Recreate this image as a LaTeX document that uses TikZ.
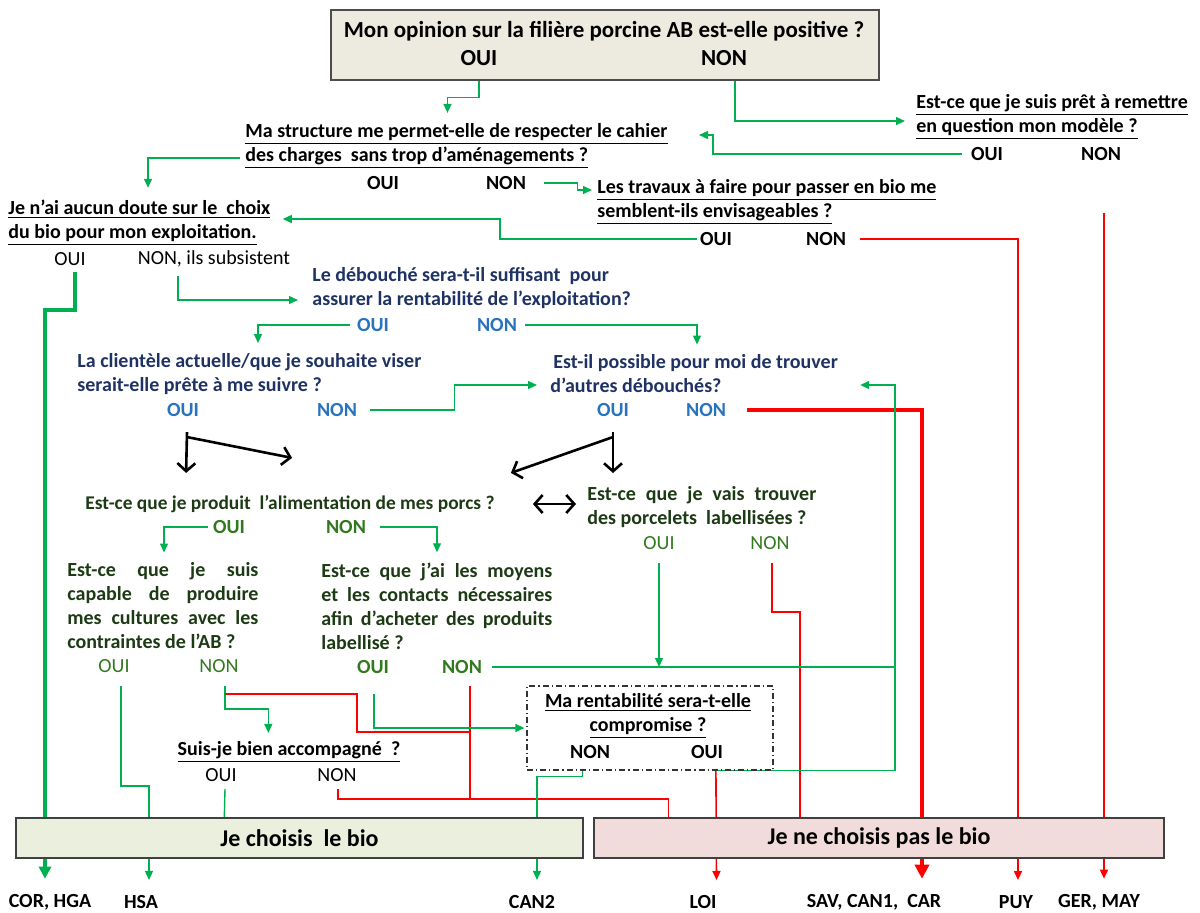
\documentclass[tikz,border=0pt]{standalone}
\usepackage{fontspec}
\setmainfont{Carlito}
\usetikzlibrary{arrows.meta,calc}
\pgfdeclarelayer{background}
\pgfsetlayers{background,main}
\definecolor{boxbeige}{RGB}{237,234,223}
\definecolor{boxgreen}{RGB}{235,240,222}
\definecolor{boxpink}{RGB}{242,220,219}
\definecolor{linegreen}{RGB}{0,176,80}
\definecolor{linered}{RGB}{255,0,0}
\definecolor{navytext}{RGB}{31,50,100}
\definecolor{bluetext}{RGB}{40,115,190}
\definecolor{darkgreentext}{RGB}{28,58,20}
\definecolor{greentext}{RGB}{50,120,30}

\begin{document}
\begin{tikzpicture}[x=0.5pt,y=-0.5pt]
    % styles
    \tikzstyle{question}=[font=\bfseries\fontsize{10}{12}\selectfont,align=left,inner sep=0pt,anchor=west]
    \tikzstyle{justq}=[question,align=justify]
    \tikzstyle{answer}=[font=\bfseries\fontsize{10}{12}\selectfont,inner sep=0pt]
    \tikzstyle{plainanswer}=[font=\fontsize{10}{12}\selectfont,inner sep=0pt]
    \tikzstyle{titletext}=[font=\bfseries\fontsize{11.5}{14}\selectfont,inner sep=0pt]
    \tikzstyle{decision}=[draw=black!75,line width=0.7pt,inner sep=0pt,minimum height=20pt,font=\bfseries\fontsize{12}{14}\selectfont]
    \tikzstyle{farm}=[font=\bfseries\fontsize{10}{12}\selectfont,inner sep=0pt]
    \tikzstyle{gline}=[linegreen,line width=0.7pt]
    \tikzstyle{rline}=[linered,line width=0.8pt]
    \tikzstyle{arrowed}=[-{Triangle[length=4.5pt,width=4pt]}]
    \tikzstyle{bigarrow}=[black,line width=1.3pt,-{Straight Barb[length=4pt,width=9pt]}]

    \useasboundingbox (0,0) rectangle (1200,912);

    % ----------------------------------------------------
    % questions
    % ----------------------------------------------------
    \node[draw=black!70,fill=boxbeige,line width=0.7pt,minimum width=274pt,minimum height=35pt,inner sep=0pt] (t0) at (605,45) {};
    \node[titletext] (t0q) at (604,31) {Mon opinion sur la filière porcine AB est-elle positive ?};
    \node[titletext] (t0oui) at (479,58) {OUI};
    \node[titletext] (t0non) at (724,58) {NON};

    \node[question] (q1) at (245,146) {\underline{Ma structure me permet-elle de respecter le cahier}\\\underline{des charges~ sans trop d’aménagements ?}};
    \node[answer] (q1oui) at (383,183) {OUI};
    \node[answer] (q1non) at (506,183) {NON};

    \node[question] (q1b) at (916,117) {\underline{Est-ce que je suis prêt à remettre}\\\underline{en question mon modèle ?}};
    \node[answer] (q1boui) at (987,154) {OUI};
    \node[answer] (q1bnon) at (1101,154) {NON};

    \node[question] (q2) at (597,202) {\underline{Les travaux à faire pour passer en bio me}\\\underline{semblent-ils envisageables ?}};
    \node[answer] (q2oui) at (716,239) {OUI};
    \node[answer] (q2non) at (826,239) {NON};

    \node[question] (q3) at (8,223) {\underline{Je n’ai aucun doute sur le~ choix}\\\underline{du bio pour mon exploitation.}};
    \node[plainanswer] (q3oui) at (70,259) {OUI};
    \node[plainanswer] (q3non) at (214,259) {NON, ils subsistent};

    % debouches (blue)
    \node[question,navytext] (q4) at (312,288) {Le débouché sera-t-il suffisant~ pour\\assurer la rentabilité de l’exploitation?};
    \node[answer,bluetext] (q4oui) at (373,325) {OUI};
    \node[answer,bluetext] (q4non) at (497,325) {NON};

    \node[question,navytext] (q5) at (77,374) {La clientèle actuelle/que je souhaite viser\\serait-elle prête à me suivre ?};
    \node[answer,bluetext] (q5oui) at (183,410) {OUI};
    \node[answer,bluetext] (q5non) at (337,410) {NON};

    \node[question,navytext] (q6) at (550,374) {\hspace{1.5pt}Est-il possible pour moi de trouver\\d’autres débouchés?};
    \node[answer,bluetext] (q6oui) at (613,410) {OUI};
    \node[answer,bluetext] (q6non) at (706,410) {NON};

    % alimentation / porcelets (green)
    \node[answer,darkgreentext,font=\bfseries\fontsize{9.7}{12}\selectfont] (q7) at (290,504) {Est-ce que je produit~ l’alimentation de mes porcs ?};
    \node[answer,greentext] (q7oui) at (229,527) {OUI};
    \node[answer,greentext] (q7non) at (346,527) {NON};

    \node[justq,darkgreentext,text width=114.5pt] (q8) at (587,507) {Est-ce que je vais trouver\linebreak des porcelets~ labellisées ?};
    \node[plainanswer,greentext] (q8oui) at (659,543) {OUI};
    \node[plainanswer,greentext] (q8non) at (770,543) {NON};

    \node[justq,darkgreentext,text width=95.5pt] (q9) at (67,606) {Est-ce que je suis\linebreak capable de produire\linebreak mes cultures avec les\linebreak contraintes de l’AB ?};
    \node[plainanswer,greentext] (q9oui) at (114,666) {OUI};
    \node[plainanswer,greentext] (q9non) at (219,666) {NON};

    \node[justq,darkgreentext,text width=115.5pt] (q10) at (321,606) {Est-ce que j’ai les moyens\linebreak et les contacts nécessaires\linebreak afin d’acheter des produits\linebreak labellisé ?};
    \node[answer,greentext] (q10oui) at (373,667) {OUI};
    \node[answer,greentext] (q10non) at (462,667) {NON};

    \node[answer] (q11) at (289,752) {\underline{Suis-je bien accompagné~ ?}};
    \node[plainanswer] (q11oui) at (221,775) {OUI};
    \node[plainanswer] (q11non) at (337,775) {NON};

    \node[draw=black!80,line width=0.6pt,dash pattern=on 3pt off 1.5pt on 0.6pt off 1.5pt,minimum width=123pt,minimum height=42pt,inner sep=0pt] (q12) at (650,728) {};
    \node[answer,align=center] (q12q) at (648,716) {\underline{Ma rentabilité sera-t-elle}\\\underline{compromise ?}};
    \node[answer] (q12non) at (590,752) {NON};
    \node[answer] (q12oui) at (707,752) {OUI};

    % ----------------------------------------------------
    % decisions and farms
    % ----------------------------------------------------
    \node[decision,fill=boxgreen,minimum width=283.5pt] (bio) at (299.5,838) {Je choisis~ le bio};
    \node[decision,fill=boxpink,minimum width=285pt] (nobio) at (879,838) {Je ne choisis pas le bio\hspace{11pt}};

    \node[farm] (corhga) at (50,902) {COR, HGA};
    \node[farm] (hsa) at (141,902) {HSA};
    \node[farm] (can2) at (532,902) {CAN2};
    \node[farm] (loi) at (703,902) {LOI};
    \node[farm] (savcar) at (874,902) {SAV, CAN1,~ CAR};
    \node[farm] (puy) at (1016,902) {PUY};
    \node[farm] (germay) at (1099,902) {GER, MAY};

    \coordinate (loopjoin) at (895,667);

    % ----------------------------------------------------
    % connectors
    % ----------------------------------------------------
    \begin{pgfonlayer}{background}
      \draw[gline,arrowed] (t0.south -| t0oui) -- ++(0,17) -| ($(q1.north)+(-9,-10)$);
      \draw[gline,arrowed] ($(t0.south -| t0non)+(11,0)$) |- ($(q1b.west)+(-11,4)$);
      \draw[gline,arrowed] ($(q1boui.west)+(-9,0)$) -| (713,135) -- ($(q1.east)+(31,-11)$);
      \draw[rline,arrowed] ($(q1bnon.south)+(3,52)$) -- ($(germay.north)+(5,-15)$);
      \draw[gline,arrowed] ($(q1.west)+(-5,12)$) -| ($(q3.north west)+(140,-12)$);
      \draw[gline,arrowed] ($(q1non.east)+(18,0)$) -- ++(33,0) |- ($(q2.west)+(-5,-12)$);
      \draw[gline,arrowed] ($(q2oui.west)+(-3,0)$) -| (500,219) -- ($(q3.east)+(12,-4)$);
      \draw[rline,arrowed] ($(q2non.east)+(14,0)$) -| ($(puy.north)+(2,-15)$);

      \draw[gline,line width=1.7pt,-{Triangle[length=6pt,width=6pt]}] ($(q3oui.south)+(5,6)$) |- (45,310) -- ($(corhga.north)+(-5,-15)$);
      \draw[gline,arrowed] ($(q3non.south)+(-36,8)$) |- ($(q4.west)+(-14,12)$);
      \draw[gline,arrowed] ($(q4oui.west)+(-7,0)$) -| ($(q5.north west)+(181,-10)$);
      \draw[gline,arrowed] ($(q4non.east)+(8,0)$) -| ($(q6.north west)+(147,-10)$);
      \draw[gline,arrowed] ($(q5non.east)+(13,0)$) -- ++(84,0) |- ($(q6.west)+(-13,11)$);
      \draw[linered,line width=2pt,-{Triangle[length=7pt,width=7pt]}] ($(q6non.east)+(21,0)$) -| ($(savcar.north)+(48,-15)$);

      \draw[bigarrow] ($(q5oui.south)+(4,15)$) -- ($(q7.north west)+(101,-22)$);
      \draw[bigarrow] ($(q5oui.south)+(4,20)$) -- ($(q7.north west)+(207,-37)$);
      \draw[bigarrow] ($(q6oui.south)+(0,15)$) -- ($(q8.north west)+(26,-13)$);
      \draw[bigarrow] ($(q6oui.south)+(0,20)$) -- ($(q7.north east)+(16,-22)$);
      \draw[bigarrow,{Straight Barb[length=4pt,width=9pt]}-{Straight Barb[length=4pt,width=9pt]}] ($(q7.east)+(38,0)$) -- ($(q8.west)+(-11,-3)$);

      \draw[gline,arrowed] ($(q7oui.west)+(-5,0)$) -| ($(q9.north west)+(97,-10)$);
      \draw[gline,arrowed] ($(q7non.east)+(14,0)$) -| ($(q10.north west)+(116,-10)$);
      \draw[gline,arrowed] ($(q8oui.south)+(0,13)$) -- (q8oui |- loopjoin);
      \draw[rline] ($(q8non.south)+(2,13)$) -- ++(0,49) -| ($(nobio.north west)+(206.5,0)$);
      \draw[gline] ($(q10non.east)+(10,0)$) -- (loopjoin);
      \draw[gline,arrowed] ($(q12.south west)+(189,0)$) -| (loopjoin) |- ($(q6.east)+(22,11)$);

      \draw[gline,arrowed] ($(q9oui.south)+(7,13)$) |- (149,786) -- ($(hsa.north)+(8,-15)$);
      \draw[gline,arrowed] ($(q9non.south)+(6,13)$) -- ++(0,23) -| ($(q11.north west)+(91,-8)$);
      \draw[rline] ($(q9non.south)+(6,21)$) -| (357,732) -- ($(q10non.south)+(8,58)$);
      \draw[rline] ($(q10non.south)+(8,12)$) -- ($(q10non.south)+(8,125)$);
      \draw[rline] ($(q11non.south)+(1,7)$) -- ++(0,10) -| ($(nobio.north west)+(75,0)$);
      \draw[gline,arrowed] ($(q10oui.south)+(1,20)$) |- ($(q12.west)+(-2,0)$);
      \draw[gline] ($(q11oui.south)+(4,7)$) -- ($(bio.north west)+(209,0)$);
      \draw[gline,arrowed] ($(q12.south west)+(56,0)$) -- ++(0,6) -| ($(can2.north)+(5,-15)$);
      \draw[rline,arrowed] ($(q12.south west)+(189.5,0)$) -- ($(loi.north)+(13.5,-15)$);
    \end{pgfonlayer}
\end{tikzpicture}
\end{document}
